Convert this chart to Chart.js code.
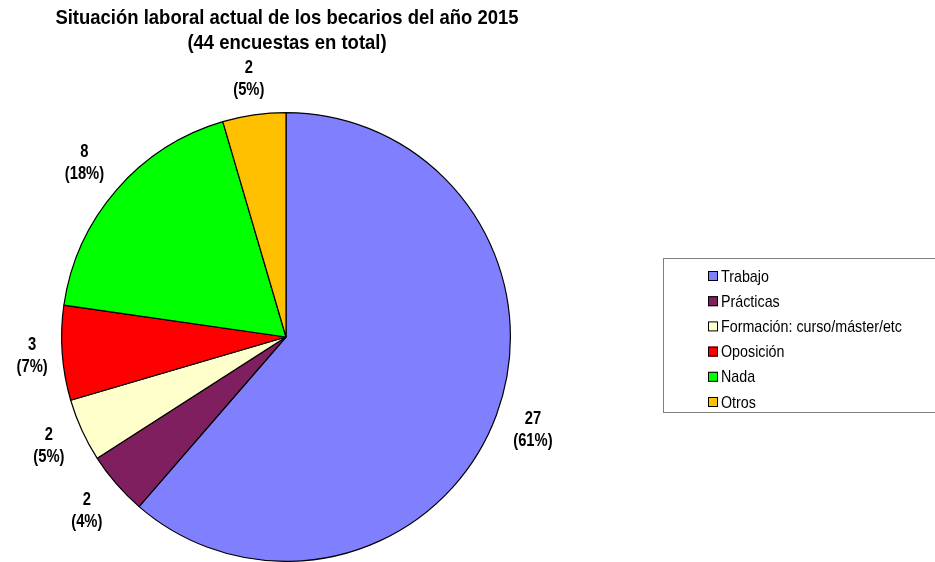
<!DOCTYPE html>
<html lang="es">
<head>
<meta charset="utf-8"/>
<title>Situación laboral</title>
<script src="https://cdn.jsdelivr.net/npm/chart.js@4.4.1/dist/chart.umd.min.js"></script>
<style>
	html, body { margin: 0; padding: 0; background: #fff; }
	#wrap { width: 935px; height: 562px; }
</style>
</head>
<body>
<div id="wrap"><canvas id="pie" width="935" height="562"></canvas></div>
<script>
// data
const categories = ['Trabajo', 'Prácticas', 'Formación: curso/máster/etc', 'Oposición', 'Nada', 'Otros'];
const counts = [27, 2, 2, 3, 8, 2];
const percentLabels = ['61%', '4%', '5%', '7%', '18%', '5%'];
const colors = ['#8080FF', '#7F1F5F', '#FFFFCC', '#FF0000', '#00FF00', '#FFC000'];
const titleLines = ['Situación laboral actual de los becarios del año 2015', '(44 encuestas en total)'];

const FONT = '"Liberation Sans", Arial, sans-serif';

// text squeezed horizontally to look like a narrow face
function narrowText(ctx, txt, x, y, align, k) {
	ctx.save();
	ctx.translate(x, y);
	ctx.scale(k, 1);
	ctx.textAlign = align;
	ctx.fillText(txt, 0, 0);
	ctx.restore();
}

// draws title, slice labels and the boxed legend
const extras = {
	id: 'extras',
	afterDraw(chart) {
		const ctx = chart.ctx;
		const meta = chart.getDatasetMeta(0);
		ctx.save();
		ctx.fillStyle = '#000';
		ctx.textBaseline = 'middle';

		ctx.font = 'bold 21px ' + FONT;
		narrowText(ctx, titleLines[0], 287, 18, 'center', 0.88);
		narrowText(ctx, titleLines[1], 287, 43, 'center', 0.88);

		// labels sit outside the slice, pushed out by the size of their box
		const lk = 0.82;
		ctx.font = 'bold 18px ' + FONT;
		meta.data.forEach((arc, i) => {
			const l1 = String(counts[i]);
			const l2 = '(' + percentLabels[i] + ')';
			const w = Math.max(ctx.measureText(l1).width, ctx.measureText(l2).width) * lk;
			const h = 44;
			const mid = (arc.startAngle + arc.endAngle) / 2;
			const c = Math.cos(mid), s = Math.sin(mid);
			const r = arc.outerRadius + 13 + Math.abs(c) * w / 2 + Math.abs(s) * h / 2;
			const x = arc.x + c * r;
			const y = arc.y + s * r;
			narrowText(ctx, l1, x, y - 10, 'center', lk);
			narrowText(ctx, l2, x, y + 12, 'center', lk);
		});

		// legend
		ctx.strokeStyle = '#808080';
		ctx.lineWidth = 1;
		ctx.strokeRect(663.5, 258.5, 300, 154);
		ctx.font = '17px ' + FONT;
		categories.forEach((c, i) => {
			const y = 276 + i * 25.2;
			ctx.fillStyle = colors[i];
			ctx.fillRect(708, y - 5, 10, 10);
			ctx.strokeStyle = '#000';
			ctx.strokeRect(708.5, y - 4.5, 9, 9);
			ctx.fillStyle = '#000';
			narrowText(ctx, c, 721, y + 1, 'left', 0.84);
		});
		ctx.restore();
	}
};

new Chart(document.getElementById('pie'), {
	type: 'pie',
	data: {
		labels: categories,
		datasets: [{
			data: counts,
			backgroundColor: colors,
			borderColor: '#000',
			borderWidth: 1.2,
			hoverOffset: 0
		}]
	},
	options: {
		responsive: false,
		animation: false,
		devicePixelRatio: 1,
		layout: { padding: { left: 61, right: 424, top: 112, bottom: 0 } },
		plugins: {
			legend: { display: false },
			tooltip: { enabled: false },
			title: { display: false }
		}
	},
	plugins: [extras]
});
</script>
</body>
</html>
